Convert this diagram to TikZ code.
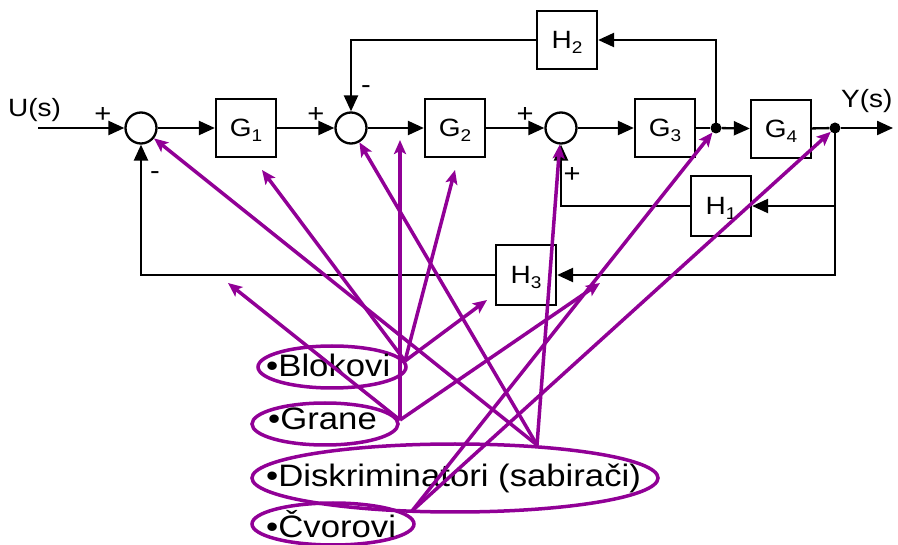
\documentclass[tikz,border=0pt]{standalone}
\usepackage{fontspec}
\setmainfont{Liberation Sans}[FakeStretch=1.12]
\usetikzlibrary{arrows.meta,shapes.geometric}
\definecolor{linkpurple}{RGB}{145,0,150}
% lowered index inside a block name
\newcommand\blksub[1]{\raisebox{-5pt}{\fontsize{17}{17}\selectfont #1}}
\begin{document}
\begin{tikzpicture}[x=1pt,y=-1pt,
  wire/.style={line width=2.3pt},
  sig/.style={wire, -{Triangle[length=16pt,width=14pt]}},
  blockbox/.style={draw, line width=2.3pt, minimum width=60pt, minimum height=58pt,
    inner sep=0pt, text height=18pt, text depth=0pt, font=\fontsize{25}{25}\selectfont},
  sumnode/.style={draw, circle, line width=2.3pt, minimum size=31pt, inner sep=0pt, fill=white},
  dotnode/.style={fill, circle, minimum size=11pt, inner sep=0pt},
  sgn/.style={font=\fontsize{26}{26}\selectfont, inner sep=0pt},
  iolabel/.style={font=\fontsize{25}{25}\selectfont, inner sep=0pt, anchor=base west},
  catring/.style={ellipse, draw=linkpurple, line width=3.5pt, inner sep=0pt},
  cat/.style={font=\fontsize{31}{31}\selectfont, inner sep=0pt, anchor=base west},
  hint/.style={draw=linkpurple, line width=3.5pt,
    -{Stealth[length=14pt,width=12pt,inset=3pt]}},
]
\useasboundingbox (0,0) rectangle (898,545);

% ---- signal flow diagram ----
\node[sumnode] (s1) at (141,128) {};
\node[sumnode] (s2) at (351,128) {};
\node[sumnode] (s3) at (561,128) {};
\node[blockbox] (g1) at (246,128) {G\blksub{1}};
\node[blockbox] (g2) at (455,128) {G\blksub{2}};
\node[blockbox] (g3) at (665,128) {G\blksub{3}};
\node[blockbox] (g4) at (781,129) {G\blksub{4}};
\node[blockbox] (h2) at (567,40) {H\blksub{2}};
\node[blockbox, minimum height=60pt] (h1) at (721,206) {H\blksub{1}};
\node[blockbox, minimum height=60pt] (h3) at (526,275) {H\blksub{3}};

\coordinate (uin) at (38,128);
\coordinate (yout) at (893,128);
\node[iolabel] (ulab) at (8,117) {U(s)};
\node[iolabel] (ylab) at (841,108) {Y(s)};

% forward path
\draw[sig] (uin) -- (s1);
\draw[sig] (s1) -- (g1);
\draw[sig] (g1) -- (s2);
\draw[sig] (s2) -- (g2);
\draw[sig] (g2) -- (s3);
\draw[sig] (s3) -- (g3);
\node[dotnode] (n1) at (716,128) {};
\node[dotnode] (n2) at (835,128) {};
\draw[wire] (g3) -- (n1);
\draw[sig] (n1) -- (g4);
\draw[wire] (g4) -- (n2);
\draw[sig] (n2) -- (yout);

% feedback loops
\draw[sig] (n1.center) |- (h2);
\draw[sig] (h2) -| (s2);
\draw[sig] (n2.center) |- (h1);
\draw[sig] (h1) -| (s3);
\draw[sig] (n2.center) |- (h3);
\draw[sig] (h3) -| (s1);

% signs at the summing junctions
\node[sgn] (p1) at (103,115) {+};
\node[sgn] (m1) at (155,176) {-};
\node[sgn] (p2) at (316,115) {+};
\node[sgn] (m2) at (366,90) {-};
\node[sgn] (p3) at (525,115) {+};
\node[sgn] (p3b) at (572,175) {+};

% ---- element categories ----
\node[catring, minimum width=148pt, minimum height=42pt] (blkring) at (332,367) {};
\node[catring, minimum width=146pt, minimum height=42pt] (grnring) at (325,424) {};
\node[catring, minimum width=406pt, minimum height=68pt] (dskring) at (455,478) {};
\node[catring, minimum width=162pt, minimum height=42pt] (cvrring) at (333,524) {};
\node[cat] (blk) at (266,377) {•Blokovi};
\node[cat] (grn) at (268,430) {•Grane};
\node[cat] (dsk) at (266,487) {•Diskriminatori (sabirači)};
\node[cat] (cvr) at (266,537) {•Čvorovi};

% pointers from categories to elements
\coordinate (blk-o) at (405,361);
\coordinate (grn-o) at (400,420);
\coordinate (dsk-o) at (537,445);
\coordinate (cvr-o) at (412,511);
\coordinate (g1-t) at (262,170);
\coordinate (g2-t) at (455,170);
\coordinate (h3-t) at (487,300);
\coordinate (br-fwd) at (400,140);
\coordinate (br-left) at (228,283);
\coordinate (br-right) at (600,283);

\draw[hint] (blk-o) -- (g1-t);
\draw[hint] (blk-o) -- (g2-t);
\draw[hint] (blk-o) -- (h3-t);
\draw[hint] (grn-o) -- (br-fwd);
\draw[hint] (grn-o) -- (br-left);
\draw[hint] (grn-o) -- (br-right);
\draw[hint] (dsk-o) -- (s1);
\draw[hint] (dsk-o) -- (s2);
\draw[hint] (dsk-o) -- (s3);
\draw[hint] (cvr-o) -- (n1);
\draw[hint] (cvr-o) -- (n2);
\end{tikzpicture}
\end{document}
